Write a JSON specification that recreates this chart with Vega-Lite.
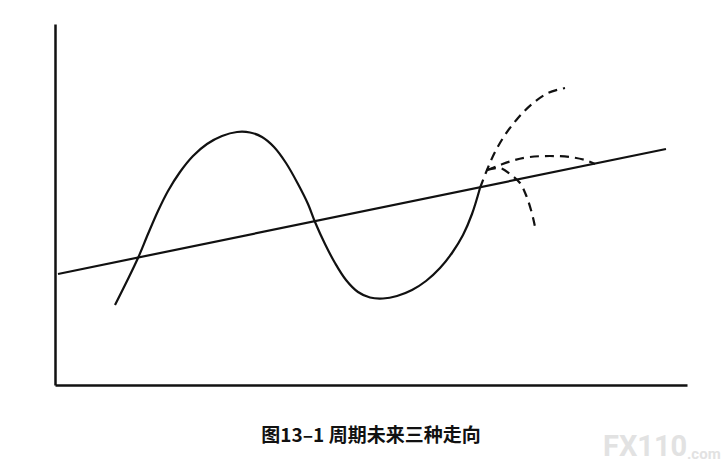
{
  "$schema": "https://vega.github.io/schema/vega-lite/v6.json",
  "width": 632,
  "height": 361,
  "autosize": {"type": "none"},
  "padding": {"left": 55, "top": 24, "right": 40, "bottom": 89},
  "background": "white",
  "title": {
    "text": "图13–1 周期未来三种走向",
    "orient": "bottom",
    "anchor": "middle",
    "offset": -35,
    "font": "Noto Sans CJK SC",
    "fontSize": 19,
    "fontWeight": "bold",
    "color": "#111111"
  },
  "datasets": {
    "trend": [
      {"x": 3, "y": 111},
      {"x": 611, "y": 236}
    ],
    "cycle": [
      {"x": 60, "y": 80}, {"x": 72, "y": 104}, {"x": 83, "y": 127}, {"x": 93, "y": 151},
      {"x": 103, "y": 174}, {"x": 113, "y": 194}, {"x": 125, "y": 213}, {"x": 138, "y": 229},
      {"x": 152, "y": 241}, {"x": 167, "y": 249}, {"x": 182, "y": 253}, {"x": 195, "y": 252.5},
      {"x": 207, "y": 248}, {"x": 219, "y": 238}, {"x": 231, "y": 222}, {"x": 243, "y": 201},
      {"x": 253, "y": 181}, {"x": 260, "y": 163}, {"x": 270, "y": 141}, {"x": 280, "y": 122},
      {"x": 291, "y": 105}, {"x": 303, "y": 93}, {"x": 315, "y": 87.5}, {"x": 328, "y": 86.5},
      {"x": 342, "y": 89}, {"x": 357, "y": 95}, {"x": 371, "y": 104}, {"x": 385, "y": 117},
      {"x": 397, "y": 132}, {"x": 408, "y": 150}, {"x": 417, "y": 171}, {"x": 425, "y": 197}
    ],
    "future": [
      {"path": "up", "x": 425, "y": 197}, {"path": "up", "x": 432, "y": 215},
      {"path": "up", "x": 440, "y": 233}, {"path": "up", "x": 450, "y": 250},
      {"path": "up", "x": 463, "y": 267}, {"path": "up", "x": 477, "y": 281},
      {"path": "up", "x": 493, "y": 292}, {"path": "up", "x": 510, "y": 297},
      {"path": "flat", "x": 432, "y": 215}, {"path": "flat", "x": 445, "y": 220},
      {"path": "flat", "x": 460, "y": 225}, {"path": "flat", "x": 475, "y": 228},
      {"path": "flat", "x": 495, "y": 229}, {"path": "flat", "x": 515, "y": 228},
      {"path": "flat", "x": 530, "y": 225}, {"path": "flat", "x": 540, "y": 221},
      {"path": "down", "x": 432, "y": 215}, {"path": "down", "x": 445, "y": 217},
      {"path": "down", "x": 455, "y": 211}, {"path": "down", "x": 465, "y": 202},
      {"path": "down", "x": 471, "y": 190}, {"path": "down", "x": 476, "y": 175},
      {"path": "down", "x": 479, "y": 163}, {"path": "down", "x": 481, "y": 153}
    ],
    "mark": [
      {"label": "FX110", "x": 548, "y": -77, "size": 29},
      {"label": ".com", "x": 632, "y": -77, "size": 15}
    ]
  },
  "layer": [
    {
      "data": {"name": "trend"},
      "mark": {"type": "line", "color": "#111111", "strokeWidth": 2.2},
      "encoding": {
        "x": {
          "field": "x", "type": "quantitative",
          "scale": {"domain": [0, 632], "nice": false, "zero": false},
          "axis": {"domain": true, "domainColor": "#111111", "domainWidth": 2.5, "ticks": false, "labels": false, "grid": false, "title": null}
        },
        "y": {
          "field": "y", "type": "quantitative",
          "scale": {"domain": [0, 361], "nice": false, "zero": false},
          "axis": {"domain": true, "domainColor": "#111111", "domainWidth": 2.5, "ticks": false, "labels": false, "grid": false, "title": null}
        }
      }
    },
    {
      "data": {"name": "cycle"},
      "mark": {"type": "line", "color": "#111111", "strokeWidth": 2.2, "interpolate": "catmull-rom"},
      "encoding": {
        "x": {"field": "x", "type": "quantitative"},
        "y": {"field": "y", "type": "quantitative"}
      }
    },
    {
      "data": {"name": "future"},
      "mark": {"type": "line", "color": "#111111", "strokeWidth": 2.2, "strokeDash": [9, 6], "interpolate": "catmull-rom"},
      "encoding": {
        "x": {"field": "x", "type": "quantitative"},
        "y": {"field": "y", "type": "quantitative"},
        "detail": {"field": "path", "type": "nominal"}
      }
    },
    {
      "data": {"name": "mark"},
      "mark": {"type": "text", "align": "left", "baseline": "bottom", "fontWeight": "bold", "font": "Roboto", "color": "#e2e2e2"},
      "encoding": {
        "x": {"field": "x", "type": "quantitative"},
        "y": {"field": "y", "type": "quantitative"},
        "text": {"field": "label"},
        "size": {"field": "size", "type": "quantitative", "scale": null, "legend": null}
      }
    }
  ],
  "config": {"view": {"stroke": null}}
}
